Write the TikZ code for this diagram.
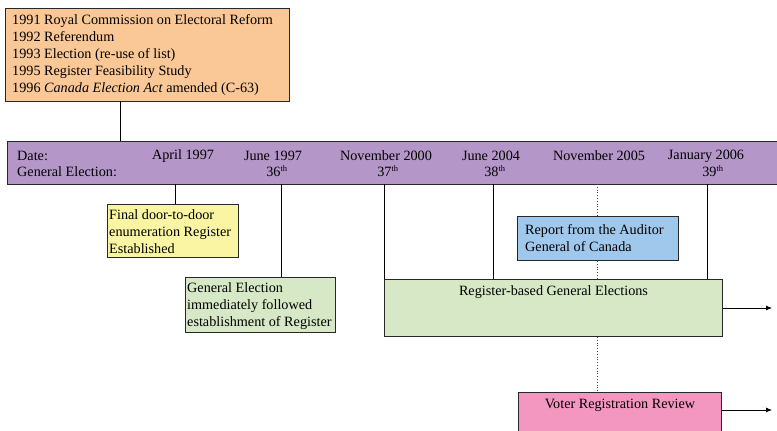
\documentclass[tikz,border=0pt]{standalone}
\usepackage{fontspec}
\setmainfont{Liberation Serif}
\usetikzlibrary{arrows.meta}
\definecolor{peach}{RGB}{250,200,150}
\definecolor{lilac}{RGB}{180,151,200}
\definecolor{paleyellow}{RGB}{249,245,162}
\definecolor{palegreen}{RGB}{214,232,198}
\definecolor{paleblue}{RGB}{160,200,236}
\definecolor{pink}{RGB}{243,150,192}
\definecolor{edge}{RGB}{40,40,40}
\tikzset{
  box/.style={draw=edge, line width=1pt, anchor=north west, inner sep=0pt},
  txt/.style={font=\fontsize{14.2}{17}\selectfont, inner sep=0pt},
  lefttxt/.style={txt, align=left, anchor=west},
  bartxt/.style={txt, anchor=center},
  link/.style={draw=black, line width=0.8pt},
  dotlink/.style={draw=black!70, line width=0.8pt, dotted},
  arr/.style={draw=black, line width=0.8pt, -{Latex[length=6pt,width=5pt]}}
}
\newcommand{\ord}[1]{#1\textsuperscript{\fontsize{8.5}{8.5}\selectfont th}}
\begin{document}
\begin{tikzpicture}[x=1pt,y=-1pt]
\clip (0,0) rectangle (777,431);
\fill[white] (0,0) rectangle (777,431);

% history box
\node[box, fill=peach, minimum width=284, minimum height=93] (hist) at (5,8) {};
\node[lefttxt] (histtxt) at (12,55) {1991 Royal Commission on Electoral Reform\\
1992 Referendum\\
1993 Election (re-use of list)\\
1995 Register Feasibility Study\\
1996 \textit{Canada Election Act} amended (C-63)};

% timeline bar
\node[box, fill=lilac, minimum width=790, minimum height=43] (bar) at (7,141) {};
\node[txt, anchor=west] (datelbl) at (17,156) {Date:};
\node[txt, anchor=west] (gelbl) at (17,172) {General Election:};
\node[bartxt] (d1) at (183,156) {April 1997};
\node[bartxt] (d2) at (273,156) {June 1997};
\node[bartxt] (d3) at (386,156) {November 2000};
\node[bartxt] (d4) at (491,156) {June 2004};
\node[bartxt] (d5) at (599,156) {November 2005};
\node[bartxt] (d6) at (706,156) {January 2006};
\node[bartxt] (e1) at (277,171) {\ord{36}};
\node[bartxt] (e2) at (388,171) {\ord{37}};
\node[bartxt] (e3) at (495,171) {\ord{38}};
\node[bartxt] (e4) at (713,171) {\ord{39}};

% event boxes
\node[box, fill=paleyellow, minimum width=131, minimum height=53] (door) at (107,204) {};
\node[lefttxt] (doortxt) at (109,232) {Final door-to-door\\enumeration Register\\Established};

\node[box, fill=palegreen, minimum width=150, minimum height=55] (ge) at (185,277) {};
\node[lefttxt] (getxt) at (187,306) {General Election\\immediately followed\\establishment of Register};

\node[box, fill=palegreen, minimum width=338, minimum height=57] (reg) at (384,279) {};
\node[txt, anchor=north] (regtxt) at ([yshift=-6pt]reg.north) {Register-based General Elections};

\node[box, fill=paleblue, minimum width=161, minimum height=44] (ag) at (517,216) {};
\node[lefttxt] (agtxt) at (525,238) {Report from the Auditor\\General of Canada};

\node[box, fill=pink, minimum width=203, minimum height=60] (vrr) at (518,392) {};
\node[txt, anchor=north] (vrrtxt) at ([yshift=-7pt]vrr.north) {Voter Registration Review};

% connectors
\coordinate (t1) at (175,184);
\coordinate (t2) at (281,184);
\coordinate (t3) at (384,184);
\coordinate (t4) at (493,184);
\coordinate (t5) at (597,184);
\coordinate (t6) at (707,184);
\coordinate (hb) at (120,101);
\coordinate (bt) at (120,141);
\draw[link] (hb) -- (bt);
\draw[link] (t1) -- (t1 |- door.north);
\draw[link] (t2) -- (t2 |- ge.north);
\draw[link] (t3) -- (t3 |- reg.north);
\draw[link] (t4) -- (t4 |- reg.north);
\draw[link] (t6) -- (t6 |- reg.north);
\draw[dotlink] (t5) -- (t5 |- ag.north);
\draw[dotlink] (t5 |- ag.south) -- (t5 |- reg.north);
\draw[dotlink] (t5 |- reg.south) -- (t5 |- vrr.north);
\coordinate (rega) at (772,308);
\coordinate (vrra) at (772,410);
\draw[arr] (reg.east |- rega) -- (rega);
\draw[arr] (vrr.east |- vrra) -- (vrra);
\end{tikzpicture}
\end{document}
